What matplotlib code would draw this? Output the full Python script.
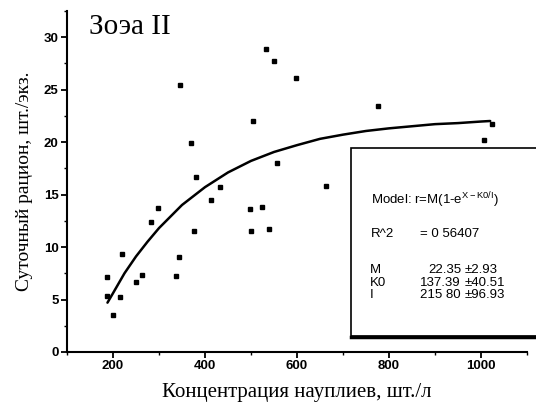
import matplotlib.pyplot as plt
from matplotlib.patches import Rectangle
from matplotlib.lines import Line2D
from matplotlib.ticker import MultipleLocator

# Observed points: nauplii concentration (ind./l) vs daily ration (ind./zoea)
conc = [186, 186, 199, 216, 219, 249, 264, 282, 298, 336, 343, 346, 370, 377, 380,
        412, 433, 498, 501, 504, 524, 533, 540, 549, 557, 597, 662, 775, 1007, 1023]
ration = [7.1, 5.3, 3.5, 5.2, 9.3, 6.7, 7.3, 12.4, 13.7, 7.2, 9.05, 25.4, 19.9, 11.5, 16.7,
          14.5, 15.7, 13.6, 11.5, 22.0, 13.8, 28.9, 11.7, 27.7, 18.0, 26.1, 15.8, 23.4, 20.2, 21.7]

# Fitted curve
fit_x = [188, 200, 225, 250, 275, 300, 350, 400, 450, 500, 550, 600, 650, 700,
         750, 800, 850, 900, 950, 1000, 1020]
fit_y = [4.7, 5.6, 7.5, 9.1, 10.5, 11.8, 14.0, 15.7, 17.1, 18.2, 19.05, 19.7, 20.3, 20.7,
         21.05, 21.3, 21.5, 21.7, 21.8, 21.95, 22.0]

fit_params = [("M", "22.35", "\u00b12.93"),
              ("K0", "137.39", "\u00b140.51"),
              ("I", "215 80", "\u00b196.93")]

fig = plt.figure(figsize=(5.36, 4.07), dpi=100)
ax = fig.add_axes([67/536, 1 - 352/407, 460/536, (352 - 10.75)/407])

ax.plot(fit_x, fit_y, color="black", lw=1.8, solid_capstyle="round")
ax.plot(conc, ration, "s", color="black", ms=3.5)

ax.set_xlim(100, 1100)
ax.set_ylim(0, 32.5)
ax.xaxis.set_major_locator(MultipleLocator(200))
ax.xaxis.set_minor_locator(MultipleLocator(100))
ax.yaxis.set_major_locator(MultipleLocator(5))
ax.yaxis.set_minor_locator(MultipleLocator(2.5))
for s in ["top", "right"]:
    ax.spines[s].set_visible(False)
for s in ["left", "bottom"]:
    ax.spines[s].set_linewidth(1.5)
ax.tick_params(which="major", direction="out", length=4, width=1.3,
               labelsize=9.5, pad=2)
ax.tick_params(which="minor", direction="out", length=2.5, width=1)
for lab in ax.get_xticklabels() + ax.get_yticklabels():
    lab.set_family("Liberation Sans")
    lab.set_fontweight("bold")

serif = "Liberation Serif"
ax.set_xlabel("Концентрация науплиев, шт./л", family=serif, fontsize=15, labelpad=8)
ax.set_ylabel("Суточный рацион, шт./экз.", family=serif, fontsize=14, labelpad=8)
fig.text(89/536, 1 - 27/407, "Зоэа II", family=serif, fontsize=21, va="center")

# Fit results box
box = Rectangle((351/536, 1 - 336/407), 190/536, (336 - 148)/407,
                transform=fig.transFigure, fill=True, facecolor="white",
                edgecolor="black", lw=1.2)
fig.patches.append(box)
fig.lines.append(Line2D([351/536, 1], [1 - 337/407, 1 - 337/407],
                        transform=fig.transFigure, color="black", lw=2.5))

sans = "Liberation Sans"
fs = 9.5
fig.text(371/536, 1 - 200/407, "Model: r=M(1-e$^{\\mathregular{X-K0/I}}$)",
         family=sans, fontsize=9.5, va="center")
fig.text(371/536, 1 - 234/407, "R^2", family=sans, fontsize=fs, va="center")
fig.text(420/536, 1 - 234/407, "= 0 56407", family=sans, fontsize=fs, va="center")
for i, (name, val, err) in enumerate(fit_params):
    y = 1 - (270 + 12.5 * i)/407
    fig.text(370/536, y, name, family=sans, fontsize=fs, va="center")
    fig.text(461/536, y, val, family=sans, fontsize=fs, va="center", ha="right")
    fig.text(465/536, y, err, family=sans, fontsize=fs, va="center")

fig.savefig("out.png", dpi=100)
